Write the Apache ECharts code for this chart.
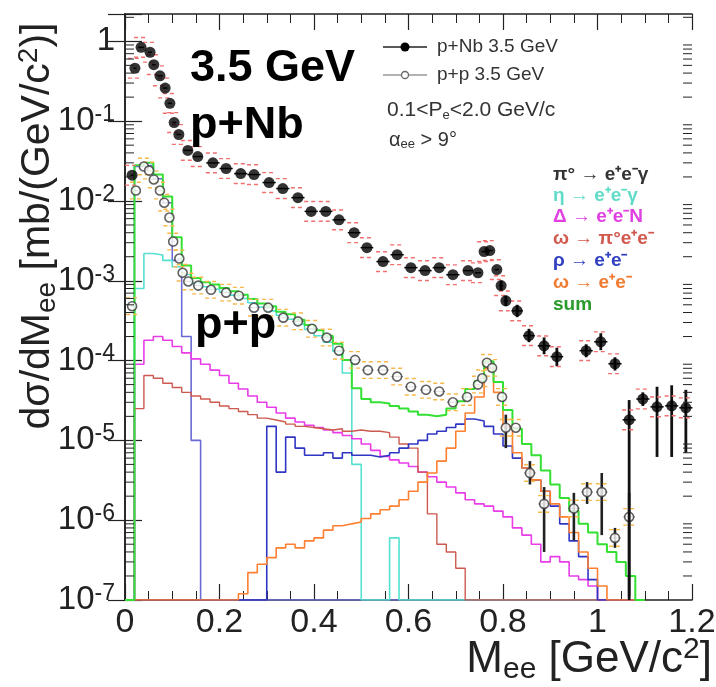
<!DOCTYPE html>
<html>
<head>
<meta charset="utf-8">
<script src="https://cdn.jsdelivr.net/npm/echarts@6.0.0/dist/echarts.min.js"></script>
<style>html,body{margin:0;padding:0;background:#fff;}#chart{width:716px;height:687px;}</style>
</head>
<body>
<div id="chart"></div>
<script>
const FONT = "'Liberation Sans', Arial, Helvetica, sans-serif";

// ---------- axis ticks / labels ----------
const xTickValues = [0, 0.2, 0.4, 0.6, 0.8, 1.0, 1.2];
const xTickLabels = ['0', '0.2', '0.4', '0.6', '0.8', '1', '1.2'];
const yDecadeExps = [-7, -6, -5, -4, -3, -2, -1, 0];

// ---------- model histograms (bins of 0.02 GeV/c2, left edges) ----------
const modelEdges = [0,0.02,0.04,0.06,0.08,0.10,0.12,0.14,0.16,0.18,0.20,0.22,0.24,0.26,0.28,0.30,0.32,0.34,0.36,0.38,0.40,0.42,0.44,0.46,0.48,0.50,0.52,0.54,0.56,0.58,0.60,0.62,0.64,0.66,0.68,0.70,0.72,0.74,0.76,0.78,0.80,0.82,0.84,0.86,0.88,0.90,0.92,0.94,0.96,0.98,1.00,1.02,1.04,1.06,1.08,1.10];

const pi0Dalitz = [0,0.027,0.028,0.019,0.0095,0.0018,2e-4,1e-5,0,0,0,0,0,0,0,0,0,0,0,0,0,0,0,0,0,0,0,0,0,0,0,0,0,0,0,0,0,0,0,0,0,0,0,0,0,0,0,0,0,0,0,0,0,0,0];
const etaDalitz = [0,8e-4,2.2e-3,2.1e-3,1.8e-3,1.5e-3,1.2e-3,9.3e-4,8.4e-4,7.9e-4,7.2e-4,6.6e-4,6.0e-4,5.3e-4,4.7e-4,4.2e-4,3.7e-4,3.3e-4,2.85e-4,2.45e-4,2.05e-4,1.7e-4,1.3e-4,7e-5,5e-6,0,0,0,6e-7,0,0,0,0,0,0,0,0,0,0,0,0,0,0,0,0,0,0,0,0,0,0,0,0,0,0];
const deltaDalitz = [0,9e-5,1.8e-4,2.0e-4,1.8e-4,1.5e-4,1.25e-4,1.05e-4,9e-5,7.6e-5,6.5e-5,5.2e-5,4.4e-5,3.6e-5,3.0e-5,2.6e-5,2.2e-5,1.9e-5,1.7e-5,1.55e-5,1.45e-5,1.35e-5,1.25e-5,1.15e-5,1.05e-5,9e-6,7.5e-6,6.3e-6,5.7e-6,5.2e-6,4.7e-6,4e-6,3.5e-6,3.0e-6,2.6e-6,2.2e-6,1.8e-6,1.6e-6,1.5e-6,1.3e-6,1.1e-6,8e-7,6.5e-7,5e-7,3e-7,3.5e-7,3e-7,2e-7,1.8e-7,1.5e-7,0,0,0,0,0];
const omegaDalitz = [0,2.5e-5,6.5e-5,6.0e-5,5.2e-5,4.6e-5,4.0e-5,3.6e-5,3.3e-5,3.0e-5,2.7e-5,2.5e-5,2.3e-5,2.1e-5,1.9e-5,1.8e-5,1.7e-5,1.6e-5,1.5e-5,1.45e-5,1.4e-5,1.35e-5,1.4e-5,1.3e-5,1.35e-5,1.3e-5,1.3e-5,1.25e-5,1.1e-5,9e-6,8e-6,4e-6,1.2e-6,5e-7,4e-7,2.5e-7,0,0,0,0,0,0,0,0,0,0,0,0,0,0,0,0,0,0,0];
const rhoEE = [0,0,0,0,0,0,0,0,0,0,0,0,0,0,0,1.5e-5,4e-6,1.1e-5,8e-6,6.5e-6,6.5e-6,7e-6,6e-6,7e-6,6.5e-6,6.5e-6,6.2e-6,6.5e-6,7e-6,8e-6,9e-6,1.0e-5,1.2e-5,1.3e-5,1.45e-5,1.6e-5,1.85e-5,1.75e-5,1.5e-5,1.2e-5,8.5e-6,6e-6,4.5e-6,3.2e-6,2.3e-6,1.5e-6,9e-7,5.5e-7,3.5e-7,1.8e-7,0,0,0,0,0];
const omegaEE = [0,0,0,0,0,0,0,0,0,0,0,0,1.2e-7,2.2e-7,2.8e-7,3.4e-7,4.5e-7,5e-7,4.5e-7,5.5e-7,6e-7,7.5e-7,8.5e-7,9e-7,9.5e-7,1.05e-6,1.2e-6,1.35e-6,1.5e-6,1.8e-6,2.3e-6,3e-6,3.9e-6,5.5e-6,8e-6,1.3e-5,2.2e-5,3.5e-5,8e-5,4e-5,1.5e-5,7e-6,4.5e-6,3.2e-6,2.3e-6,1.6e-6,1.1e-6,7e-7,4e-7,2.5e-7,1.5e-7,0,0,0,0];
const sumModel = [0,0.028,0.030,0.0215,0.0114,0.0035,0.00155,0.00108,0.00096,0.0009,0.00081,0.00074,0.00067,0.00059,0.00052,0.00048,0.00041,0.00038,0.000325,0.00028,0.00024,0.000204,0.000163,0.000102,4.5e-5,3.3e-5,3.0e-5,2.9e-5,2.7e-5,2.5e-5,2.3e-5,2.1e-5,2.0e-5,2.1e-5,2.5e-5,3.1e-5,4.4e-5,5.5e-5,9.8e-5,5.4e-5,2.4e-5,1.4e-5,9e-6,6.5e-6,4.2e-6,2.8e-6,1.9e-6,1.3e-6,9e-7,7e-7,5e-7,4e-7,3e-7,2e-7,0];

// ---------- p+Nb data ----------
const nbX = [0.015,0.021,0.034,0.053,0.061,0.074,0.085,0.095,0.104,0.114,0.133,0.154,0.186,0.214,0.245,0.273,0.305,0.334,0.366,0.394,0.425,0.453,0.485,0.512,0.546,0.576,0.605,0.635,0.665,0.694,0.726,0.747,0.760,0.772,0.787,0.796,0.806,0.830,0.855,0.887,0.914,0.976,1.007,1.037,1.067,1.096,1.126,1.157,1.187];
const nbY = [0.021,0.46,0.84,0.73,0.51,0.37,0.26,0.167,0.096,0.068,0.043,0.036,0.030,0.0255,0.022,0.0214,0.0170,0.0143,0.0110,0.0074,0.0074,0.0058,0.0040,0.0026,0.00174,0.00212,0.00146,0.00134,0.00146,0.00119,0.00134,0.00126,0.00232,0.00239,0.00138,0.00087,0.00056,0.00042,0.000205,0.000153,0.000112,0.000133,0.000172,0.0000912,0.0000181,0.000033,0.0000263,0.0000271,0.0000256];
const nbLo = [null,null,null,null,null,null,null,null,null,null,null,null,null,null,null,null,null,null,null,null,null,null,null,null,null,null,null,null,null,null,null,null,null,null,null,7.5e-4,4.8e-4,3.5e-4,1.7e-4,1.2e-4,8.5e-5,1.1e-4,1.35e-4,7.5e-5,1e-7,2.7e-5,6.2e-6,6.2e-6,7e-6];
const nbHi = [null,null,null,null,null,null,null,null,null,null,null,null,null,null,null,null,null,null,null,null,null,null,null,null,null,null,null,null,null,null,null,null,null,null,null,1.0e-3,6.5e-4,5.0e-4,2.5e-4,1.95e-4,1.45e-4,1.6e-4,2.2e-4,1.1e-4,3.2e-5,4e-5,4.7e-5,4.9e-5,4.3e-5];
const nbSysFactor = 1.33;

// ---------- p+p data ----------
const ppX = [0.015,0.023,0.040,0.051,0.061,0.074,0.083,0.094,0.102,0.115,0.122,0.134,0.155,0.182,0.214,0.241,0.273,0.303,0.335,0.366,0.396,0.427,0.453,0.487,0.514,0.546,0.576,0.605,0.637,0.665,0.694,0.724,0.747,0.756,0.766,0.777,0.798,0.806,0.827,0.857,0.887,0.950,0.978,1.009,1.037,1.067];
const ppY = [4.8e-4,0.0135,0.027,0.024,0.0186,0.0135,0.0095,0.0062,0.0031,0.0019,0.00126,0.00098,8.7e-4,7.7e-4,7.1e-4,6.5e-4,4.6e-4,4.6e-4,3.45e-4,3.1e-4,2.5e-4,1.94e-4,1.33e-4,1.02e-4,7.6e-5,7.6e-5,6.3e-5,4.7e-5,4.3e-5,4.1e-5,3.0e-5,3.5e-5,5.0e-5,6.0e-5,9.4e-5,8.1e-5,3.5e-5,1.44e-5,1.44e-5,3.9e-6,1.6e-6,1.4e-6,2.25e-6,2.25e-6,6.0e-7,1.1e-6];
const ppLo = [null,null,null,null,null,null,null,null,null,null,null,null,null,null,null,null,null,null,null,null,null,null,null,null,null,null,null,null,null,null,null,null,null,null,null,null,null,8e-6,null,2.8e-6,4e-7,5.6e-7,1.6e-6,6.5e-7,4.5e-7,1.1e-7];
const ppHi = [null,null,null,null,null,null,null,null,null,null,null,null,null,null,null,null,null,null,null,null,null,null,null,null,null,null,null,null,null,null,null,null,null,null,null,null,null,2.1e-5,null,5.5e-6,2.6e-6,2.2e-6,3e-6,3.9e-6,8e-7,2.2e-6];
const ppSysFactor = 1.27;

// ---------- helpers ----------
const YMIN = 1e-7, YMAX = 2.2, XMIN = 0, XMAX = 1.2;

function stepData(vals) {
  const d = vals.map((v, i) => [modelEdges[i], v > 0 ? v : YMIN]);
  d.push([modelEdges[vals.length], d[d.length - 1][1]]);
  return d;
}
function halfWidths(xs, cap) {
  return xs.map((x, i) => {
    const l = i > 0 ? (x - xs[i - 1]) / 2 : Infinity;
    const r = i < xs.length - 1 ? (xs[i + 1] - x) / 2 : Infinity;
    return Math.min(l, r, cap);
  });
}
function errItems(xs, ys, lo, hi, cap) {
  const hw = halfWidths(xs, cap);
  return xs.map((x, i) => [x, ys[i], lo[i] == null ? -1 : lo[i], hi[i] == null ? -1 : hi[i], hw[i]]);
}
function makeErrRender(o) {
  return function (params, api) {
    const x = api.value(0), y = api.value(1), lo = api.value(2), hi = api.value(3), hw = api.value(4);
    const c = api.coord([x, y]);
    const L = api.coord([x - hw, y]), R = api.coord([x + hw, y]);
    const ch = [];
    ch.push({ type: 'line', shape: { x1: L[0], y1: c[1], x2: R[0], y2: c[1] }, style: { stroke: o.hColor, lineWidth: o.hWidth } });
    if (lo > 0 && hi > 0) {
      const a = api.coord([x, lo]), b = api.coord([x, hi]);
      ch.push({ type: 'line', shape: { x1: c[0], y1: a[1], x2: c[0], y2: b[1] }, style: { stroke: o.vColor, lineWidth: o.vWidth } });
    }
    const up = api.coord([x, y * o.sys]), dn = api.coord([x, y / o.sys]);
    [up, dn].forEach(p => ch.push({ type: 'line', shape: { x1: c[0] - o.sysHalf, y1: p[1], x2: c[0] + o.sysHalf, y2: p[1] },
      style: { stroke: o.sysColor, lineWidth: 1.4, lineDash: [4, 3] } }));
    return { type: 'group', children: ch };
  };
}

// log minor ticks (left & right frame)
const minorTickVals = [];
yDecadeExps.forEach(e => { for (let k = 2; k <= 9; k++) { const v = k * Math.pow(10, e); if (v <= YMAX) minorTickVals.push([0, v]); } });

const chart = echarts.init(document.getElementById('chart'), null, { renderer: 'canvas' });

const modelDefs = [
  { name: 'pi0', data: pi0Dalitz, color: '#6a6ad6', w: 1.6 },
  { name: 'eta', data: etaDalitz, color: '#55e0d0', w: 1.6 },
  { name: 'delta', data: deltaDalitz, color: '#e83ce8', w: 1.6 },
  { name: 'omegaDalitz', data: omegaDalitz, color: '#cc5a50', w: 1.4 },
  { name: 'rho', data: rhoEE, color: '#3036c4', w: 1.6 },
  { name: 'omegaEE', data: omegaEE, color: '#ff7f30', w: 1.6 },
  { name: 'sum', data: sumModel, color: '#33e033', w: 2 }
];

const series = modelDefs.map((m, i) => ({
  type: 'line', name: m.name, data: stepData(m.data), step: 'end', symbol: 'none',
  lineStyle: { color: m.color, width: m.w }, silent: true, clip: true, z: 2 + i, animation: false
}));

series.push({
  type: 'custom', name: 'minorTicks', coordinateSystem: 'cartesian2d', data: minorTickVals, silent: true, z: 20,
  encode: { x: 0, y: 1 },
  renderItem: function (params, api) {
    const v = api.value(1);
    const l = api.coord([XMIN, v]), r = api.coord([XMAX, v]);
    return { type: 'group', children: [
      { type: 'line', shape: { x1: l[0], y1: l[1], x2: l[0] + 9, y2: l[1] }, style: { stroke: '#222', lineWidth: 1 } },
      { type: 'line', shape: { x1: r[0], y1: r[1], x2: r[0] - 9, y2: r[1] }, style: { stroke: '#222', lineWidth: 1 } }
    ] };
  }, animation: false
});

series.push({
  type: 'custom', name: 'ppErr', coordinateSystem: 'cartesian2d', data: errItems(ppX, ppY, ppLo, ppHi, 0.012),
  encode: { x: 0, y: 1 }, silent: true, z: 12, animation: false,
  renderItem: makeErrRender({ hColor: '#777', hWidth: 1.2, vColor: '#222', vWidth: 2.6, sys: ppSysFactor, sysColor: '#f7b84a', sysHalf: 6 })
});
series.push({
  type: 'scatter', name: 'p+p 3.5 GeV', data: ppX.map((x, i) => [x, ppY[i]]), symbol: 'circle', symbolSize: 9,
  itemStyle: { color: '#ffffff', borderColor: '#3a3a3a', borderWidth: 1.6 }, z: 13, silent: true, animation: false
});
series.push({
  type: 'custom', name: 'nbErr', coordinateSystem: 'cartesian2d', data: errItems(nbX, nbY, nbLo, nbHi, 0.014),
  encode: { x: 0, y: 1 }, silent: true, z: 14, animation: false,
  renderItem: makeErrRender({ hColor: '#111', hWidth: 1.5, vColor: '#111', vWidth: 2.8, sys: nbSysFactor, sysColor: '#f07070', sysHalf: 7 })
});
series.push({
  type: 'scatter', name: 'p+Nb 3.5 GeV', data: nbX.map((x, i) => [x, nbY[i]]), symbol: 'circle', symbolSize: 11,
  itemStyle: { color: '#000' }, z: 15, silent: true, animation: false
});

function yLabel(v) {
  const e = Math.log10(v), r = Math.round(e);
  if (Math.abs(e - r) > 1e-6 || yDecadeExps.indexOf(r) < 0) return '';
  if (r === 0) return '{b|1}';
  return '{b|10}{s|' + r + '}';
}
function xLabel(v) {
  const i = xTickValues.findIndex(t => Math.abs(t - v) < 1e-9);
  return i >= 0 ? xTickLabels[i] : '';
}

const axisLineStyle = { color: '#222', width: 1.6 };
const option = {
  animation: false,
  backgroundColor: '#ffffff',
  grid: { left: 125, right: 24, top: 14, bottom: 87, containLabel: false, outerBoundsMode: 'none' },
  xAxis: [
    { type: 'value', min: XMIN, max: XMAX, interval: 0.2, position: 'bottom',
      axisLine: { show: true, lineStyle: axisLineStyle },
      axisTick: { show: true, inside: true, length: 16, lineStyle: { color: '#222', width: 1.2 } },
      minorTick: { show: true, splitNumber: 4, length: 9, lineStyle: { color: '#222', width: 1 } },
      splitLine: { show: false },
      axisLabel: { show: true, margin: 6, fontFamily: FONT, fontSize: 34, color: '#222', formatter: xLabel } },
    { type: 'value', min: XMIN, max: XMAX, interval: 0.2, position: 'top',
      axisLine: { show: true, lineStyle: axisLineStyle },
      axisTick: { show: true, inside: true, length: 16, lineStyle: { color: '#222', width: 1.2 } },
      minorTick: { show: true, splitNumber: 4, length: 9, lineStyle: { color: '#222', width: 1 } },
      splitLine: { show: false }, axisLabel: { show: false } }
  ],
  yAxis: [
    { type: 'log', logBase: 10, min: YMIN, max: YMAX, splitNumber: 8, position: 'left',
      axisLine: { show: true, lineStyle: axisLineStyle },
      axisTick: { show: true, inside: true, length: 17, lineStyle: { color: '#222', width: 1.2 } },
      splitLine: { show: false },
      axisLabel: { show: true, margin: 10, formatter: yLabel,
        rich: { b: { fontFamily: FONT, fontSize: 33, color: '#222', lineHeight: 36 },
                s: { fontFamily: FONT, fontSize: 23, color: '#222', lineHeight: 16, verticalAlign: 'top' } } } },
    { type: 'log', logBase: 10, min: YMIN, max: YMAX, splitNumber: 8, position: 'right',
      axisLine: { show: true, lineStyle: axisLineStyle },
      axisTick: { show: true, inside: true, length: 17, lineStyle: { color: '#222', width: 1.2 } },
      splitLine: { show: false }, axisLabel: { show: false } }
  ],
  series: series,
  graphic: [
    // axis titles
    { type: 'text', x: 712, y: 660, z: 50, style: { text: '{m|M}{sub|ee}{m| [GeV/c}{sup|2}{m|]}', align: 'right', verticalAlign: 'middle',
      rich: { m: { fontFamily: FONT, fontSize: 44, fill: '#222', lineHeight: 50 },
              sub: { fontFamily: FONT, fontSize: 30, fill: '#222', lineHeight: 26, verticalAlign: 'bottom' },
              sup: { fontFamily: FONT, fontSize: 30, fill: '#222', lineHeight: 24, verticalAlign: 'top' } } } },
    { type: 'text', x: 38, y: 226, rotation: Math.PI / 2, z: 50, style: { text: '{m|dσ/dM}{sub|ee}{m| [mb/(GeV/c}{sup|2}{m|)]}', align: 'center', verticalAlign: 'middle',
      rich: { m: { fontFamily: FONT, fontSize: 41, fill: '#222', lineHeight: 46 },
              sub: { fontFamily: FONT, fontSize: 28, fill: '#222', lineHeight: 24, verticalAlign: 'bottom' },
              sup: { fontFamily: FONT, fontSize: 28, fill: '#222', lineHeight: 22, verticalAlign: 'top' } } } },
    // big labels
    { type: 'text', x: 190, y: 69, z: 50, style: { text: '3.5 GeV', font: 'bold 45px ' + FONT, fill: '#000', verticalAlign: 'middle' } },
    { type: 'text', x: 190, y: 126, z: 50, style: { text: 'p+Nb', font: 'bold 45px ' + FONT, fill: '#000', verticalAlign: 'middle' } },
    { type: 'text', x: 195, y: 326, z: 50, style: { text: 'p+p', font: 'bold 45px ' + FONT, fill: '#000', verticalAlign: 'middle' } },
    // data legend
    { type: 'line', z: 50, shape: { x1: 383, y1: 47, x2: 427, y2: 47 }, style: { stroke: '#222', lineWidth: 1.5 } },
    { type: 'circle', z: 51, shape: { cx: 405, cy: 47, r: 4.5 }, style: { fill: '#000' } },
    { type: 'text', x: 437, y: 47, z: 50, style: { text: 'p+Nb 3.5 GeV', font: '19px ' + FONT, fill: '#333', verticalAlign: 'middle' } },
    { type: 'line', z: 50, shape: { x1: 383, y1: 75, x2: 427, y2: 75 }, style: { stroke: '#999', lineWidth: 1.5 } },
    { type: 'circle', z: 51, shape: { cx: 405, cy: 75, r: 3.5 }, style: { fill: '#fff', stroke: '#666', lineWidth: 1.3 } },
    { type: 'text', x: 437, y: 75, z: 50, style: { text: 'p+p 3.5 GeV', font: '19px ' + FONT, fill: '#333', verticalAlign: 'middle' } },
    { type: 'text', x: 387, y: 110, z: 50, style: { text: '{m|0.1<P}{sub|e}{m|<2.0 GeV/c}', verticalAlign: 'middle',
      rich: { m: { fontFamily: FONT, fontSize: 21, fill: '#333', lineHeight: 24 }, sub: { fontFamily: FONT, fontSize: 13, fill: '#333', lineHeight: 12, verticalAlign: 'bottom' } } } },
    { type: 'text', x: 389, y: 140, z: 50, style: { text: '{m|α}{sub|ee}{m| > 9°}', verticalAlign: 'middle',
      rich: { m: { fontFamily: FONT, fontSize: 20, fill: '#333', lineHeight: 22 }, sub: { fontFamily: FONT, fontSize: 13, fill: '#333', lineHeight: 12, verticalAlign: 'bottom' } } } },
    // model legend
    { type: 'text', x: 553, y: 175, z: 50, style: { text: 'π° → e⁺e⁻γ', font: 'bold 19px ' + FONT, fill: '#333', verticalAlign: 'middle' } },
    { type: 'text', x: 553, y: 196, z: 50, style: { text: 'η → e⁺e⁻γ', font: 'bold 19px ' + FONT, fill: '#5fdcc8', verticalAlign: 'middle' } },
    { type: 'text', x: 553, y: 217, z: 50, style: { text: 'Δ → e⁺e⁻N', font: 'bold 19px ' + FONT, fill: '#e040e0', verticalAlign: 'middle' } },
    { type: 'text', x: 553, y: 239, z: 50, style: { text: 'ω → π°e⁺e⁻', font: 'bold 19px ' + FONT, fill: '#d0584c', verticalAlign: 'middle' } },
    { type: 'text', x: 553, y: 261, z: 50, style: { text: 'ρ → e⁺e⁻', font: 'bold 19px ' + FONT, fill: '#3040c0', verticalAlign: 'middle' } },
    { type: 'text', x: 553, y: 283, z: 50, style: { text: 'ω → e⁺e⁻', font: 'bold 19px ' + FONT, fill: '#f07a30', verticalAlign: 'middle' } },
    { type: 'text', x: 553, y: 305, z: 50, style: { text: 'sum', font: 'bold 19px ' + FONT, fill: '#2a9a2a', verticalAlign: 'middle' } }
  ]
};
chart.setOption(option);
</script>
</body>
</html>
